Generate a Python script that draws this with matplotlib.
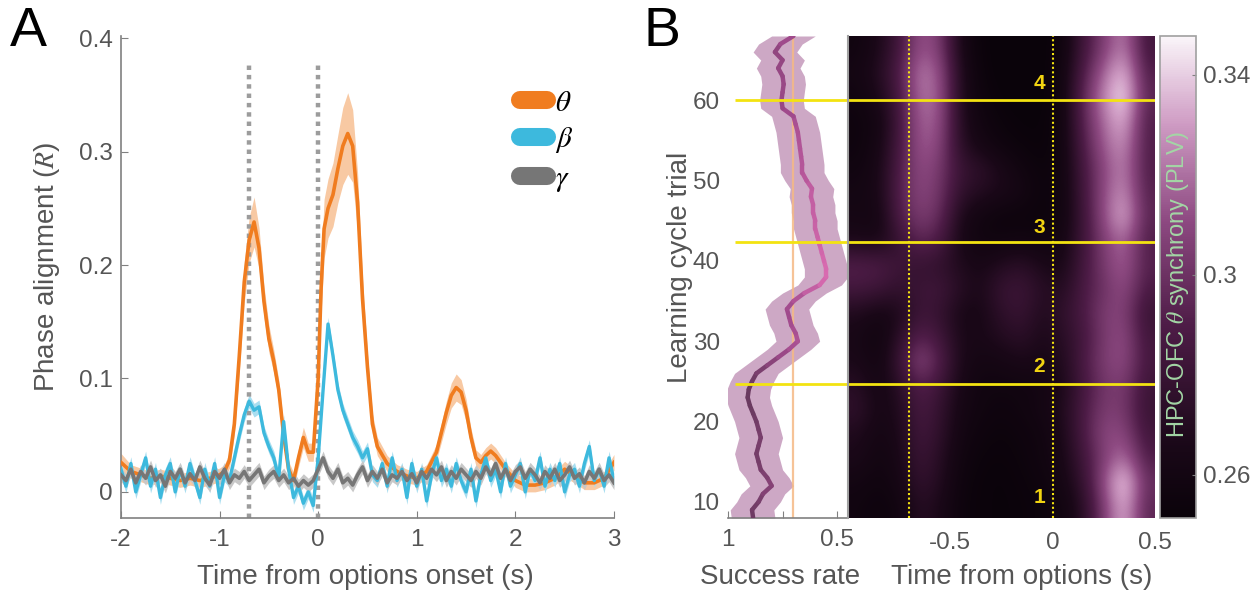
import matplotlib
matplotlib.use('Agg')
import matplotlib.pyplot as plt
import numpy as np
from matplotlib.collections import LineCollection
from matplotlib.colors import LinearSegmentedColormap
from matplotlib.lines import Line2D

plt.rcParams['font.family'] = ['Liberation Sans', 'DejaVu Sans']
plt.rcParams['mathtext.fontset'] = 'stix'

TEXT = '#555555'
SPINE = '#808080'
YELLOW = '#f3e311'

# ---- panel A: phase alignment over time ----
EVENT_TIMES = [-0.7, 0.0]

THETA_T = [-2.0, -1.9, -1.8, -1.7, -1.6, -1.5, -1.4, -1.3, -1.2, -1.1, -1.0, -0.95,
           -0.9, -0.85, -0.8, -0.75, -0.7, -0.65, -0.6, -0.55, -0.5, -0.45, -0.4,
           -0.35, -0.3, -0.25, -0.2, -0.15, -0.1, -0.05, 0.0, 0.03, 0.06, 0.1, 0.15,
           0.2, 0.25, 0.3, 0.35, 0.4, 0.45, 0.5, 0.55, 0.6, 0.7, 0.8, 0.9, 1.0, 1.1,
           1.2, 1.3, 1.35, 1.4, 1.45, 1.5, 1.55, 1.6, 1.65, 1.7, 1.75, 1.8, 1.9, 2.0,
           2.1, 2.2, 2.3, 2.4, 2.5, 2.6, 2.7, 2.8, 2.9, 3.0]
THETA_R = [0.026, 0.018, 0.015, 0.012, 0.014, 0.012, 0.010, 0.012, 0.010, 0.012, 0.015, 0.018,
           0.028, 0.060, 0.120, 0.185, 0.222, 0.238, 0.215, 0.168, 0.135, 0.115, 0.090,
           0.050, 0.020, 0.010, 0.030, 0.048, 0.035, 0.035, 0.100, 0.180, 0.232, 0.250, 0.262,
           0.285, 0.305, 0.316, 0.305, 0.255, 0.170, 0.110, 0.060, 0.040, 0.025, 0.018, 0.014, 0.012, 0.018,
           0.035, 0.070, 0.085, 0.092, 0.088, 0.072, 0.048, 0.030, 0.026, 0.032, 0.036, 0.032, 0.020, 0.010,
           0.006, 0.006, 0.008, 0.012, 0.020, 0.014, 0.008, 0.008, 0.012, 0.026]
THETA_SEM = [0.008, 0.006, 0.006, 0.006, 0.006, 0.006, 0.006, 0.006, 0.006, 0.006, 0.006, 0.006,
             0.007, 0.010, 0.014, 0.018, 0.020, 0.022, 0.018, 0.014, 0.012, 0.010, 0.009,
             0.008, 0.007, 0.007, 0.008, 0.009, 0.008, 0.008, 0.016, 0.022, 0.026, 0.026, 0.028,
             0.030, 0.034, 0.036, 0.032, 0.026, 0.018, 0.012, 0.009, 0.008, 0.007, 0.006, 0.006, 0.006, 0.006,
             0.007, 0.010, 0.011, 0.012, 0.011, 0.010, 0.008, 0.007, 0.007, 0.007, 0.007, 0.007, 0.006, 0.006,
             0.006, 0.006, 0.006, 0.006, 0.007, 0.006, 0.006, 0.006, 0.006, 0.007]

# beta and gamma sampled every 50 ms from -2 to 3 s
BETA_R = [0.020, 0.005, 0.025, 0.000, 0.015, 0.030, 0.005, 0.020, -0.005, 0.015,
          0.025, 0.000, 0.020, 0.005, 0.025, 0.010, -0.005, 0.020, 0.005, 0.025,
          -0.005, 0.015, 0.010, 0.030, 0.050, 0.068, 0.080, 0.072, 0.075, 0.052,
          0.040, 0.030, 0.012, 0.062, 0.020, -0.005, 0.005, -0.010, 0.000, -0.012,
          0.030, 0.090, 0.148, 0.120, 0.090, 0.072, 0.060, 0.048, 0.040, 0.030,
          0.038, 0.015, 0.010, 0.025, 0.005, 0.030, 0.010, 0.020, -0.005, 0.025,
          0.005, 0.020, -0.008, 0.015, 0.030, 0.010, 0.020, 0.005, 0.025, 0.010,
          0.000, 0.020, -0.008, 0.015, 0.030, 0.010, 0.020, 0.000, 0.025, 0.005,
          0.015, 0.025, 0.000, 0.020, 0.010, 0.030, 0.005, 0.020, 0.010, 0.025,
          0.000, 0.015, 0.020, 0.005, 0.025, 0.040, 0.010, 0.020, 0.005, 0.030,
          0.010]
GAMMA_R = [0.015, 0.010, 0.020, 0.008, 0.018, 0.012, 0.022, 0.010, 0.015, 0.005,
           0.018, 0.012, 0.020, 0.008, 0.016, 0.010, 0.022, 0.012, 0.006, 0.018,
           0.012, 0.020, 0.008, 0.015, 0.012, 0.018, 0.010, 0.015, 0.020, 0.008,
           0.014, 0.018, 0.010, 0.015, 0.008, 0.012, 0.005, 0.010, 0.006, 0.010,
           0.020, 0.030, 0.018, 0.012, 0.020, 0.008, 0.012, 0.006, 0.015, 0.022,
           0.010, 0.018, 0.012, 0.020, 0.008, 0.015, 0.012, 0.018, 0.010, 0.016,
           0.008, 0.018, 0.012, 0.020, 0.015, 0.022, 0.010, 0.018, 0.012, 0.020,
           0.015, 0.010, 0.018, 0.012, 0.022, 0.015, 0.025, 0.012, 0.020, 0.010,
           0.018, 0.022, 0.012, 0.020, 0.015, 0.008, 0.018, 0.012, 0.020, 0.010,
           0.015, 0.022, 0.012, 0.016, 0.008, 0.018, 0.012, 0.020, 0.010, 0.015,
           0.008]
BAND_SEM = 0.006

# ---- panel B: success rate and synchrony per trial ----
SR_TRIAL = list(range(8, 69))
SR_RATE = [0.885, 0.89, 0.86, 0.84, 0.80, 0.82, 0.85, 0.86, 0.87, 0.86, 0.85, 0.86, 0.87,
           0.885, 0.90, 0.91, 0.905, 0.89, 0.87, 0.82, 0.77, 0.72, 0.68, 0.69, 0.71, 0.72,
           0.73, 0.70, 0.65, 0.58, 0.55, 0.55, 0.56, 0.57, 0.58, 0.59, 0.60, 0.60, 0.61,
           0.61, 0.62, 0.615, 0.64, 0.66, 0.66, 0.665, 0.67, 0.675, 0.68, 0.69, 0.70, 0.75,
           0.755, 0.75, 0.745, 0.75, 0.77, 0.75, 0.785, 0.76, 0.70]
SR_SEM = 0.1
CHANCE = 0.7
BLOCK_EDGES = [24.7, 42.3, 60.0]
BLOCK_LABELS = ['1', '2', '3', '4']
BLOCK_LABEL_TRIALS = [10.6, 26.8, 44.1, 62.1]

HEAT_TIME = (-1.0, 0.5)
HEAT_TRIALS = (8, 68)
# PLV x1000, rows = trial bins (bottom to top), cols = 100 ms bins from -1 to 0.5 s
PLV_MILLI = [
    [258, 255, 258, 272, 266, 255, 253, 252, 253, 255, 258, 272, 305, 338, 294],
    [260, 257, 262, 278, 270, 256, 253, 252, 254, 256, 262, 278, 312, 348, 298],
    [266, 259, 264, 282, 272, 258, 254, 253, 255, 258, 264, 283, 306, 322, 290],
    [268, 261, 266, 285, 276, 260, 256, 254, 256, 258, 266, 288, 310, 310, 284],
    [276, 263, 268, 288, 278, 262, 258, 256, 258, 261, 268, 288, 305, 304, 280],
    [272, 261, 272, 292, 282, 264, 258, 258, 258, 260, 266, 285, 302, 305, 282],
    [266, 259, 280, 312, 292, 266, 261, 262, 266, 264, 268, 288, 306, 312, 286],
    [264, 257, 274, 294, 284, 266, 265, 270, 274, 266, 272, 285, 304, 312, 284],
    [268, 262, 266, 282, 278, 264, 264, 275, 280, 268, 276, 288, 306, 308, 280],
    [285, 282, 276, 282, 284, 272, 266, 280, 282, 272, 270, 288, 300, 312, 288],
    [292, 290, 282, 278, 276, 268, 264, 270, 274, 266, 264, 285, 304, 318, 292],
    [266, 264, 278, 296, 288, 264, 258, 258, 260, 258, 261, 283, 306, 320, 290],
    [262, 260, 290, 306, 298, 266, 258, 254, 254, 254, 258, 282, 312, 338, 294],
    [261, 264, 292, 310, 302, 276, 270, 266, 262, 254, 258, 284, 312, 330, 292],
    [258, 264, 290, 312, 304, 280, 275, 266, 258, 254, 258, 286, 310, 326, 290],
    [256, 262, 286, 316, 310, 272, 262, 256, 254, 252, 258, 290, 316, 330, 290],
    [256, 260, 284, 318, 314, 270, 258, 254, 252, 252, 258, 294, 320, 338, 290],
    [258, 266, 286, 322, 316, 268, 256, 252, 251, 251, 258, 296, 326, 348, 294],
    [261, 270, 290, 324, 314, 268, 254, 251, 251, 251, 258, 290, 318, 340, 290],
    [258, 266, 284, 314, 306, 264, 253, 251, 251, 251, 256, 284, 306, 326, 284],
]
PLV_LIMITS = (0.2514, 0.3478)
PLV_TICKS = [0.26, 0.30, 0.34]
PLV_TICK_LABELS = ['0.26', '0.3', '0.34']


def style_axis(ax):
    for side in ('top', 'right'):
        ax.spines[side].set_visible(False)
    for side in ('left', 'bottom'):
        ax.spines[side].set_color(SPINE)
        ax.spines[side].set_linewidth(1.2)
    ax.tick_params(direction='in', colors=SPINE, labelcolor=TEXT, labelsize=17.5, length=5)


def draw_panel_a(fig):
    ax = fig.add_axes([0.0964, 0.128, 0.3928, 0.8114])
    style_axis(ax)
    t_grid = np.linspace(-2, 3, len(BETA_R))

    theta = np.array(THETA_R)
    sem = np.array(THETA_SEM)
    beta = np.array(BETA_R)
    gamma = np.array(GAMMA_R)

    ax.fill_between(THETA_T, theta - sem, theta + sem, color='#f8c9a3', lw=0, zorder=1)
    ax.fill_between(t_grid, beta - BAND_SEM, beta + BAND_SEM, color='#a9def0', lw=0, zorder=1)
    ax.fill_between(t_grid, gamma - BAND_SEM, gamma + BAND_SEM, color='#c8c8c8', lw=0, zorder=1)
    ax.plot(THETA_T, theta, color='#f07c1f', lw=2.6, zorder=3)
    ax.plot(t_grid, beta, color='#3db9dd', lw=2.4, zorder=4)
    ax.plot(t_grid, gamma, color='#767676', lw=2.6, zorder=5)

    ax.vlines(EVENT_TIMES, -0.023, 0.38, colors='#9c9c9c', lw=3.2,
              linestyles=(0, (1.0, 1.1)), zorder=2)

    ax.set_xlim(-2, 3)
    ax.set_ylim(-0.023, 0.402)
    ax.set_xticks([-2, -1, 0, 1, 2, 3])
    ax.set_xticklabels(['-2', '-1', '0', '1', '2', '3'])
    ax.set_yticks([0, 0.1, 0.2, 0.3, 0.4])
    ax.set_yticklabels(['0', '0.1', '0.2', '0.3', '0.4'])
    ax.tick_params(axis='x', pad=8)
    ax.tick_params(axis='y', pad=6)

    ax.set_xlabel('Time from options onset (s)', fontsize=20, color=TEXT)
    ax.xaxis.set_label_coords(0.495, -0.095)
    ax.set_ylabel('Phase alignment ($\\mathit{R}$)', fontsize=20, color=TEXT)
    ax.yaxis.set_label_coords(-0.12, 0.52)

    handles = [Line2D([], [], color=c, lw=13, solid_capstyle='round')
               for c in ('#f07c1f', '#3db9dd', '#767676')]
    ax.legend(handles, ['$\\theta$', '$\\beta$', '$\\gamma$'], loc='upper left',
              bbox_to_anchor=(0.785, 0.915), frameon=False, handlelength=0.95,
              handletextpad=0.25, labelspacing=0.3, fontsize=21, borderaxespad=0)


def draw_panel_b(fig):
    bottom, height = 0.128, 0.8114
    ax_sr = fig.add_axes([0.5801, bottom, 0.0956, height])
    ax_hm = fig.add_axes([0.6757, bottom, 0.2446, height])
    cax = fig.add_axes([0.9243, bottom, 0.0287, height])

    # success rate
    rate = np.array(SR_RATE)
    trials = np.array(SR_TRIAL)
    ax_sr.fill_betweenx(trials, rate - SR_SEM, rate + SR_SEM, color='#cda8c5', lw=0, zorder=1)
    ax_sr.axvline(CHANCE, color='#f5b985', lw=1.6, alpha=0.85, zorder=2)
    pts = np.column_stack([rate, trials])
    segs = np.stack([pts[:-1], pts[1:]], axis=1)
    line_cmap = LinearSegmentedColormap.from_list('sr', ['#d86bb0', '#a04a8c', '#6a3a60'])
    lc = LineCollection(segs, cmap=line_cmap, lw=3.2, zorder=3, capstyle='round')
    lc.set_array((rate[:-1] + rate[1:]) / 2)
    lc.set_clim(0.55, 0.9)
    ax_sr.add_collection(lc)
    ax_sr.hlines(BLOCK_EDGES, 0.97, 0.45, colors=YELLOW, lw=2, zorder=4)

    ax_sr.set_xlim(1, 0.45)
    ax_sr.set_ylim(*HEAT_TRIALS)
    for side in ('top', 'right', 'left'):
        ax_sr.spines[side].set_visible(False)
    ax_sr.spines['bottom'].set_color(SPINE)
    ax_sr.spines['bottom'].set_linewidth(1.2)
    ax_sr.tick_params(direction='in', colors=SPINE, labelcolor=TEXT, labelsize=17.5, length=5)
    ax_sr.tick_params(axis='y', length=0, pad=6)
    ax_sr.tick_params(axis='x', pad=8)
    ax_sr.set_xticks([1, 0.75, 0.5])
    ax_sr.set_xticklabels(['1', '', '0.5'])
    ax_sr.set_yticks([10, 20, 30, 40, 50, 60])
    ax_sr.set_xlabel('Success rate', fontsize=20, color=TEXT)
    ax_sr.xaxis.set_label_coords(0.43, -0.095)
    ax_sr.set_ylabel('Learning cycle trial', fontsize=20, color=TEXT)
    ax_sr.yaxis.set_label_coords(-0.29, 0.52)

    # synchrony heatmap
    cmap = LinearSegmentedColormap.from_list(
        'plv', [(0.0, '#0a030a'), (0.15, '#1a0818'), (0.4, '#4e1c47'),
                (0.62, '#8e4a82'), (0.82, '#cf9cc4'), (1.0, '#faf5f9')])
    im = ax_hm.imshow(np.array(PLV_MILLI) / 1000.0, origin='lower', aspect='auto',
                      extent=(HEAT_TIME[0], HEAT_TIME[1], HEAT_TRIALS[0], HEAT_TRIALS[1]),
                      cmap=cmap, vmin=PLV_LIMITS[0], vmax=PLV_LIMITS[1],
                      interpolation='bicubic')
    ax_hm.axvline(EVENT_TIMES[0], color=YELLOW, lw=1.5, ls=(0, (1, 1.2)))
    ax_hm.axvline(EVENT_TIMES[1], color=YELLOW, lw=1.5, ls=(0, (1, 1.2)))
    for y in BLOCK_EDGES:
        ax_hm.axhline(y, color=YELLOW, lw=2)
    for lab, y in zip(BLOCK_LABELS, BLOCK_LABEL_TRIALS):
        ax_hm.text(-0.065, y, lab, color='#f2d411', fontsize=15, fontweight='bold',
                   ha='center', va='center')
    ax_hm.set_xlim(*HEAT_TIME)
    ax_hm.set_ylim(*HEAT_TRIALS)
    for side in ('top', 'right', 'bottom'):
        ax_hm.spines[side].set_visible(False)
    ax_hm.spines['left'].set_color('#a0a0a0')
    ax_hm.spines['left'].set_linewidth(1.5)
    ax_hm.set_yticks([])
    ax_hm.set_xticks([-0.5, 0, 0.5])
    ax_hm.set_xticklabels(['-0.5', '0', '0.5'])
    ax_hm.tick_params(axis='x', length=0, pad=10, labelcolor=TEXT, labelsize=17.5)
    ax_hm.set_xlabel('Time from options (s)', fontsize=20, color=TEXT)
    ax_hm.xaxis.set_label_coords(0.565, -0.095)

    cb = fig.colorbar(im, cax=cax)
    cb.set_ticks(PLV_TICKS)
    cb.set_ticklabels(PLV_TICK_LABELS)
    cb.outline.set_edgecolor('#a0a0a0')
    cb.outline.set_linewidth(1.2)
    cax.tick_params(direction='in', colors=SPINE, labelcolor=TEXT, labelsize=17.5, length=3, pad=5)
    cax.text(0.5, 0.485, 'HPC-OFC $\\theta$ synchrony (PLV)', transform=cax.transAxes,
             rotation=90, ha='center', va='center', fontsize=17, color='#a3d6a5')


def main():
    fig = plt.figure(figsize=(12.55, 5.94), dpi=100)
    draw_panel_a(fig)
    draw_panel_b(fig)
    fig.text(0.008, 0.99, 'A', fontsize=40, va='top', ha='left')
    fig.text(0.513, 0.99, 'B', fontsize=40, va='top', ha='left')
    fig.savefig('out.png', dpi=100)
    plt.close(fig)


if __name__ == '__main__':
    main()
